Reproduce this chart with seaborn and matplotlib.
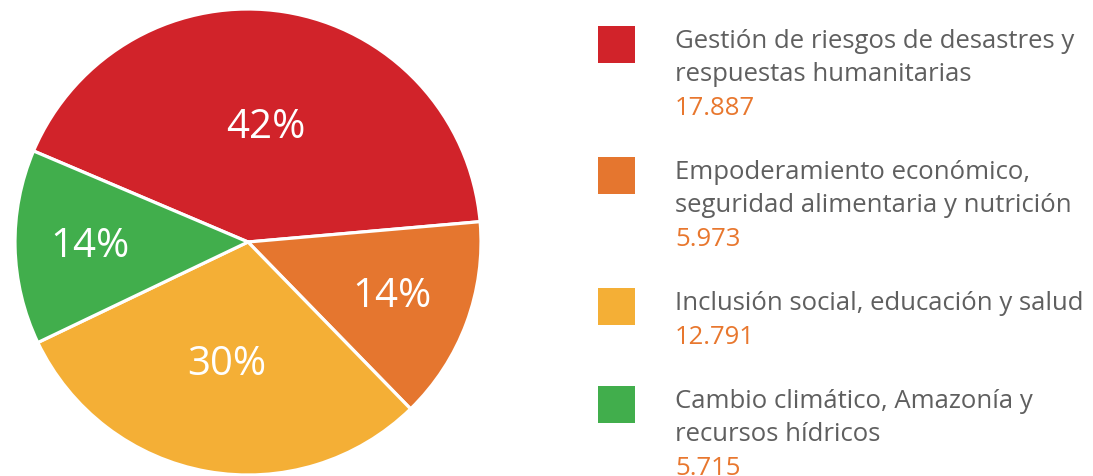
import numpy as np
import matplotlib.pyplot as plt
import seaborn as sns
from matplotlib.patches import Rectangle

categories = [
    "Gestión de riesgos de desastres y\nrespuestas humanitarias",
    "Empoderamiento económico,\nseguridad alimentaria y nutrición",
    "Inclusión social, educación y salud",
    "Cambio climático, Amazonía y\nrecursos hídricos",
]
amounts = [17887, 5973, 12791, 5715]
amount_labels = ["17.887", "5.973", "12.791", "5.715"]
pct_labels = ["42%", "14%", "30%", "14%"]
colors = ["#D1232A", "#E5762F", "#F4AF36", "#41AE4C"]

sns.set_theme(style="white")
plt.rcParams["font.family"] = ["Open Sans", "DejaVu Sans"]

W, H = 1093, 477
fig = plt.figure(figsize=(W / 100, H / 100), dpi=100)

# pie axes: centre (248, 243) px, radius 233 px
cx, cy, r = 248, 243, 233
ax = fig.add_axes([(cx - r) / W, (H - cy - r) / H, 2 * r / W, 2 * r / H])
wedges, _ = ax.pie(
    amounts,
    colors=colors,
    startangle=157,
    counterclock=False,
    wedgeprops=dict(edgecolor="white", linewidth=2.3),
)
ax.set_xlim(-1, 1)
ax.set_ylim(-1, 1)
ax.set_aspect("equal")

label_r = [0.5, 0.66, 0.53, 0.68]
for w, lab, lr in zip(wedges, pct_labels, label_r):
    ang = np.deg2rad((w.theta1 + w.theta2) / 2)
    ax.text(lr * np.cos(ang), lr * np.sin(ang), lab, ha="center", va="center",
            color="white", fontsize=29)

# legend area in pixel coordinates
lax = fig.add_axes([0, 0, 1, 1])
lax.set_xlim(0, W)
lax.set_ylim(H, 0)
lax.axis("off")

y = 48
line_h = 33
for cat, col, val in zip(categories, colors, amount_labels):
    lines = cat.split("\n")
    lax.add_patch(Rectangle((598, y - 21), 37, 37, color=col, lw=0))
    for i, ln in enumerate(lines):
        lax.text(675, y + i * line_h, ln, va="baseline", ha="left",
                 color="#5f5f5f", fontsize=18.5)
    lax.text(675, y + len(lines) * line_h + 1, val, va="baseline", ha="left",
             color="#E8772E", fontsize=18.5)
    y += (len(lines) + 1) * line_h + 32

fig.savefig("out.png", dpi=100)
